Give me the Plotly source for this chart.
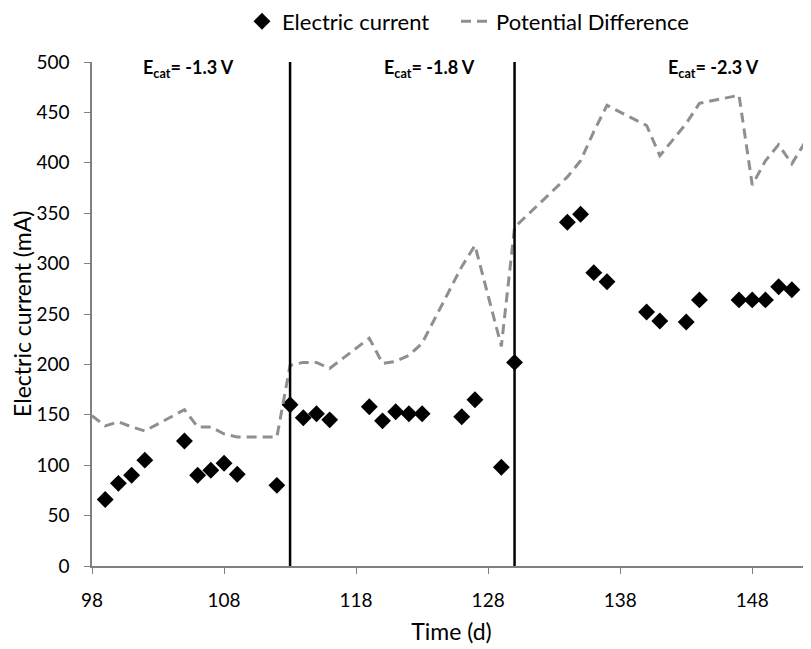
import plotly.graph_objects as go

# Electric current (mA) - diamonds
current_days = [99, 100, 101, 102, 105, 106, 107, 108, 109, 112,
                113, 114, 115, 116, 119, 120, 121, 122, 123, 126, 127, 129,
                130, 134, 135, 136, 137, 140, 141, 143, 144, 147, 148, 149, 150, 151]
current_ma = [66, 82, 90, 105, 124, 90, 95, 102, 91, 80,
              160, 147, 151, 145, 158, 144, 153, 151, 151, 148, 165, 98,
              202, 341, 349, 291, 282, 252, 243, 242, 264, 264, 264, 264, 277, 274]

# Potential difference (dashed line), same y scale
pd_days = [98, 99, 100, 101, 102, 105, 106, 107, 108, 109, 112,
           113, 114, 115, 116, 119, 120, 121, 122, 123, 126, 127, 129,
           130, 134, 135, 136, 137, 140, 141, 143, 144, 147, 148, 149, 150, 151, 153]
pd_values = [149, 139, 143, 138, 134, 155, 138, 138, 131, 128, 128,
             199, 202, 202, 196, 226, 201, 203, 209, 221, 297, 318, 218,
             336, 386, 402, 431, 457, 437, 407, 439, 459, 467, 378, 402, 418, 399, 442]

phase_boundaries = [113, 130]
phase_labels = ["<b>E<sub>cat</sub>= -1.3 V</b>", "<b>E<sub>cat</sub>= -1.8 V</b>", "<b>E<sub>cat</sub>= -2.3 V</b>"]
phase_label_days = [105.27, 123.53, 145.05]

FONT = "Lato, Liberation Sans, Arial, sans-serif"

fig = go.Figure()
fig.add_trace(go.Scatter(
    x=current_days, y=current_ma, mode="markers", name="Electric current",
    marker=dict(symbol="diamond", size=13, color="black"), legend="legend",
))
fig.add_trace(go.Scatter(
    x=pd_days, y=pd_values, mode="lines", name="Potential Difference",
    line=dict(color="#8f8f8f", width=3, dash="10px,6px"), legend="legend2",
))

for d in phase_boundaries:
    fig.add_shape(type="line", xref="x", yref="y", x0=d, x1=d, y0=0, y1=500,
                  line=dict(color="black", width=2.5), layer="above")

for d, t in zip(phase_label_days, phase_labels):
    fig.add_annotation(x=d, y=500, xref="x", yref="y", text=t, showarrow=False,
                       yanchor="top", yshift=8, font=dict(size=18, color="black", family=FONT))

# y-axis title as a rotated annotation for exact placement
fig.add_annotation(x=-0.0974, y=0.5, xref="paper", yref="paper", text="Electric current (mA)",
                   textangle=-90, showarrow=False, xanchor="center", yanchor="middle",
                   borderpad=0, font=dict(size=23, color="black", family=FONT))

legend_common = dict(orientation="h", y=1.122, xanchor="left", yanchor="top",
                     font=dict(size=22), bgcolor="rgba(0,0,0,0)")

# page body adds an 8px offset; figure sized to fit the 811x649 window exactly
fig.update_layout(
    width=803, height=641,
    margin=dict(l=84, r=0, t=54, b=83, autoexpand=False),
    plot_bgcolor="white", paper_bgcolor="white",
    font=dict(family=FONT, size=19, color="black"),
    showlegend=True,
    legend=dict(x=0.2086, **legend_common),
    legend2=dict(x=0.5063, **legend_common),
    xaxis=dict(range=[98, 152.45], tick0=98, dtick=10, showgrid=False, zeroline=False,
               showline=True, linecolor="#808080", linewidth=1.5,
               ticks="outside", ticklen=6, tickcolor="#808080", automargin=False,
               ticklabelstandoff=10,
               title=dict(text="Time (d)", font=dict(size=23), standoff=14),
               tickfont=dict(size=19)),
    yaxis=dict(range=[0, 500], dtick=50, showgrid=False, zeroline=False,
               showline=True, linecolor="#808080", linewidth=1.5,
               ticks="outside", ticklen=6, tickcolor="#808080", automargin=False,
               ticklabelstandoff=11,
               tickfont=dict(size=19)),
)

fig.write_html("out.html")
